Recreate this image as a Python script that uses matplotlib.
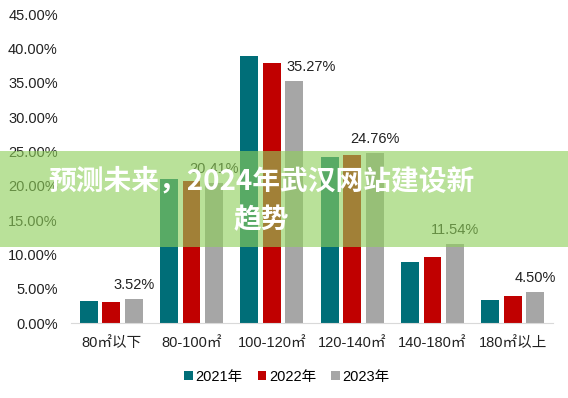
import matplotlib
matplotlib.use("Agg")
import matplotlib.pyplot as plt
import numpy as np
from matplotlib.patches import Rectangle

plt.rcParams['font.family'] = ['Liberation Sans', 'Noto Sans CJK SC', 'DejaVu Sans']

categories = ["80㎡以下", "80-100㎡", "100-120㎡", "120-140㎡", "140-180㎡", "180㎡以上"]
series_names = ["2021年", "2022年", "2023年"]
v2021 = [3.27, 20.95, 38.94, 24.20, 8.96, 3.35]
v2022 = [3.12, 20.65, 37.92, 24.50, 9.65, 3.92]
v2023 = [3.52, 20.41, 35.27, 24.76, 11.54, 4.50]
colors = ["#006E78", "#C00000", "#A6A6A6"]
yticks = [0, 5, 10, 15, 20, 25, 30, 35, 40, 45]
title = "预测未来，2024年武汉网站建设新\n趋势"
label_dx = [0, 0, 12, 0, 0, 0]  # horizontal nudge of value labels (points)

fig = plt.figure(figsize=(5.68, 3.98), dpi=100)
ax = fig.add_axes([71/568, 1-323.3/398, (553-71)/568, (323.3-14)/398])

x = np.arange(len(categories))
step = 0.28
for i, (vals, c, name) in enumerate(zip([v2021, v2022, v2023], colors, series_names)):
    bars = ax.bar(x + (i-1)*step, vals, width=0.222, color=c, label=name)
    if i == 2:
        for b, v, dx in zip(bars, vals, label_dx):
            ax.annotate(f"{v:.2f}%", (b.get_x()+b.get_width()/2, v), xytext=(dx, 5),
                        textcoords="offset points", ha="center", va="bottom", fontsize=10.5, color="#222222")

ax.set_xlim(-0.5, len(categories)-0.5)
ax.set_ylim(0, 45)
ax.set_yticks(yticks)
ax.set_yticklabels([f"{t:.2f}%" for t in yticks], fontsize=10.5, color="#222222")
ax.set_xticks(x)
ax.set_xticklabels(categories, fontsize=10.5, color="#222222")
ax.tick_params(axis='both', length=0)
ax.tick_params(axis='y', pad=9.5)
ax.tick_params(axis='x', pad=9)
for s in ['top', 'right', 'left']:
    ax.spines[s].set_visible(False)
ax.spines['bottom'].set_color('#D9D9D9')

fig.legend(loc='center', bbox_to_anchor=(287/568, 1-377/398), ncol=3, frameon=False,
           fontsize=10.5, handlelength=0.6, handleheight=0.6, handletextpad=0.2, columnspacing=1.0)

fig.patches.append(Rectangle((0, 1-247/398), 1, 96/398, transform=fig.transFigure,
                             facecolor="#8fd05a", alpha=0.62, edgecolor='none', zorder=5))
fig.text(261/568, 1-201/398, title, ha='center', va='center', fontsize=20, fontweight='heavy',
         color='white', family=['Noto Sans CJK SC', 'DejaVu Sans'], linespacing=1.5, zorder=6)

fig.savefig("out.png", dpi=100)
